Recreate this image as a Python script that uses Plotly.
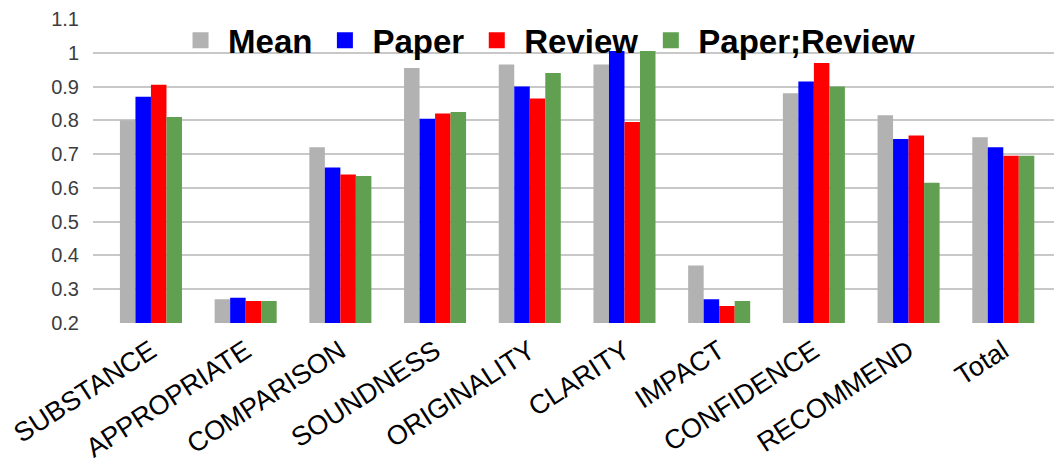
import plotly.graph_objects as go

categories = ["SUBSTANCE", "APPROPRIATE", "COMPARISON", "SOUNDNESS", "ORIGINALITY",
              "CLARITY", "IMPACT", "CONFIDENCE", "RECOMMEND", "Total"]
mean = [0.80, 0.27, 0.72, 0.955, 0.965, 0.965, 0.37, 0.88, 0.815, 0.75]
paper = [0.87, 0.275, 0.66, 0.805, 0.90, 1.005, 0.27, 0.915, 0.745, 0.72]
review = [0.905, 0.265, 0.64, 0.82, 0.865, 0.795, 0.25, 0.97, 0.755, 0.695]
paper_review = [0.81, 0.265, 0.635, 0.825, 0.94, 1.005, 0.265, 0.90, 0.615, 0.695]

series = [("Mean", mean, "rgb(178,178,178)"),
          ("Paper", paper, "rgb(0,0,255)"),
          ("Review", review, "rgb(255,0,0)"),
          ("Paper;Review", paper_review, "rgb(96,160,80)")]

fig = go.Figure()
for name, vals, color in series:
    fig.add_trace(go.Bar(x=categories, y=vals, name=name, marker_color=color,
                         marker_line_width=0, legendgroup=name, showlegend=False))
    # bigger square swatch for the legend than the bar default
    fig.add_trace(go.Scatter(x=[None], y=[None], mode="markers", name=name,
                             legendgroup=name,
                             marker=dict(symbol="square", size=20, color=color)))

# page body keeps its 8px margin, so the figure is 8px smaller than the window
fig.update_layout(
    width=1054, height=457,
    margin=dict(l=85, r=0, t=11, b=142),
    paper_bgcolor="white", plot_bgcolor="white",
    barmode="group", bargap=0.345, bargroupgap=0,
    font=dict(family="Liberation Sans, Arial, sans-serif", color="black"),
    legend=dict(orientation="h", x=0.0826, xanchor="left", y=0.93, yanchor="middle",
                bgcolor="rgba(0,0,0,0)", font=dict(size=33, family="Liberation Sans, Arial", weight="bold"),
                itemwidth=45),
    xaxis=dict(range=[-0.612, 9.62], tickangle=-33, showgrid=False, showline=False,
               tickfont=dict(size=27), ticks="", automargin=False, ticklabelstandoff=6),
    yaxis=dict(range=[0.2, 1.1], dtick=0.1, showgrid=True, gridcolor="rgb(200,200,200)",
               gridwidth=1.5, zeroline=False, showline=False,
               tickfont=dict(size=20, color="rgb(60,60,60)"),
               ticklabelstandoff=13, automargin=False),
)

fig.write_html("out.html")
